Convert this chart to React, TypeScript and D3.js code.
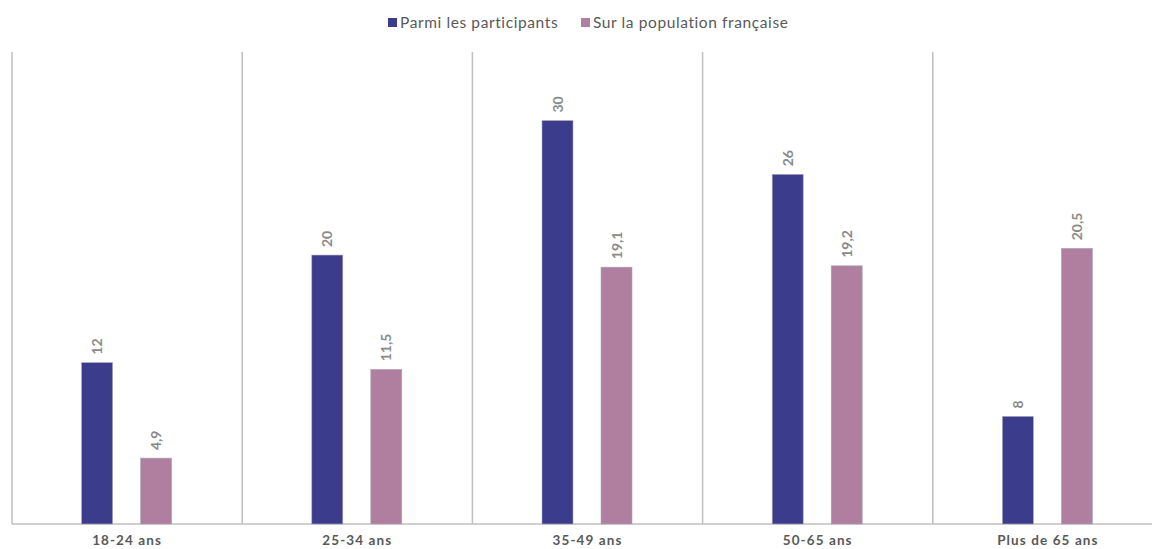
import React from "react";
import * as d3 from "d3";

const categories = ["18-24 ans", "25-34 ans", "35-49 ans", "50-65 ans", "Plus de 65 ans"];
const participants = [12, 20, 30, 26, 8];
const population = [4.9, 11.5, 19.1, 19.2, 20.5];
const seriesNames = ["Parmi les participants", "Sur la population française"];
const colors = ["#3c3c8c", "#b07fa0"];

const W = 1152, H = 549;
const left = 12, right = 1163, top = 52, bottom = 524;

export default function App() {
  const x = d3.scaleBand<string>().domain(categories).range([left, right]).padding(0);
  const y = d3.scaleLinear().domain([0, 35.1]).range([bottom, top]);
  const barW = 31;
  const offsets = [-30, 29];
  const fmt = (v: number) => String(v).replace(".", ",");
  const font = "Lato, 'Open Sans', sans-serif";
  return (
    <svg width={W} height={H} style={{ position: "absolute", left: 0, top: 0, background: "#fff" }}>
      {categories.map((c) => (
        <line key={c} x1={x(c)!} x2={x(c)!} y1={top} y2={bottom} stroke="#bfbfbf" strokeWidth={1.5} />
      ))}
      <line x1={left} x2={W} y1={bottom} y2={bottom} stroke="#bfbfbf" strokeWidth={1.5} />
      {categories.map((c, i) => {
        const cx = x(c)! + x.bandwidth() / 2;
        return (
          <g key={c}>
            {[participants[i], population[i]].map((v, s) => {
              const bx = cx + offsets[s] - barW / 2;
              const by = y(v);
              return (
                <g key={s}>
                  <rect x={bx} y={by} width={barW} height={bottom - by} fill={colors[s]} stroke="#a8a8b8" strokeWidth={0.6} />
                  <text
                    transform={`translate(${bx + barW / 2 + 5},${by - 8}) rotate(-90)`}
                    fontFamily={font}
                    fontSize={14}
                    fontWeight={700}
                    fill="#8a8a8a"
                  >
                    {fmt(v)}
                  </text>
                </g>
              );
            })}
            <text x={cx} y={545} textAnchor="middle" fontFamily={font} fontSize={13.5} fontWeight={700} letterSpacing={1.1} fill="#595959">
              {c}
            </text>
          </g>
        );
      })}
      {seriesNames.map((n, s) => {
        const lx = [388, 581][s];
        return (
          <g key={n}>
            <rect x={lx} y={18} width={9} height={9} fill={colors[s]} />
            <text x={lx + 12} y={28} fontFamily={font} fontSize={15.5} letterSpacing={0.6} fill="#595959">
              {n}
            </text>
          </g>
        );
      })}
    </svg>
  );
}
